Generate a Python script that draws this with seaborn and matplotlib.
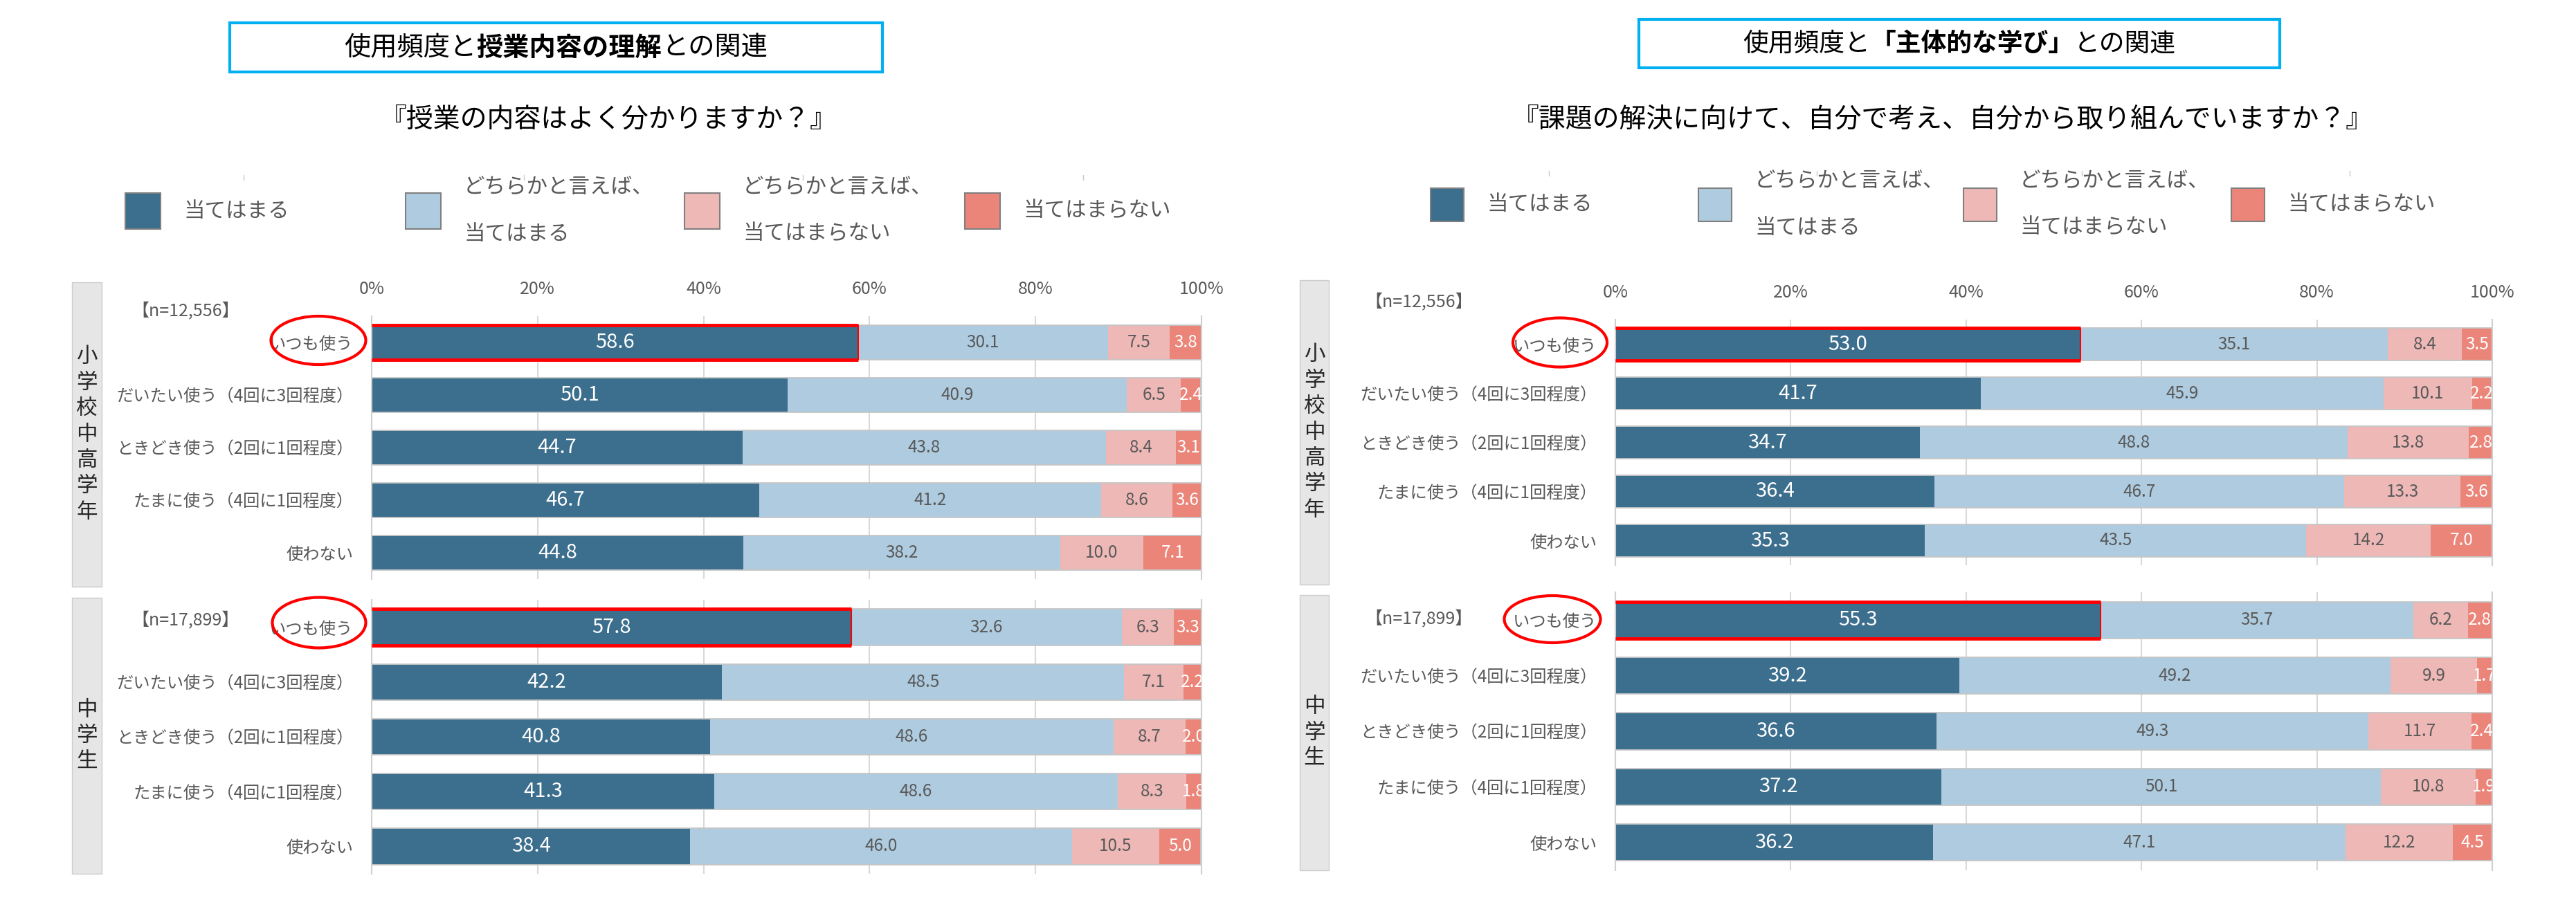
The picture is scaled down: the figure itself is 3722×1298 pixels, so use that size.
import numpy as np
import pandas as pd
import seaborn as sns
import matplotlib.pyplot as plt
from matplotlib.patches import Rectangle, Ellipse

# --- data ---
categories = ["いつも使う", "だいたい使う（4回に3回程度）", "ときどき使う（2回に1回程度）",
              "たまに使う（4回に1回程度）", "使わない"]
answer_labels = ["当てはまる", "どちらかと言えば、\n当てはまる", "どちらかと言えば、\n当てはまらない", "当てはまらない"]
answer_colors = ["#3C6E8E", "#AECBDF", "#EDB8B6", "#EB8579"]
label_colors = ["white", "#595959", "#595959", "white"]

# 授業内容の理解
understand_elem = [[58.6, 30.1, 7.5, 3.8], [50.1, 40.9, 6.5, 2.4], [44.7, 43.8, 8.4, 3.1],
                   [46.7, 41.2, 8.6, 3.6], [44.8, 38.2, 10.0, 7.1]]
understand_jhs = [[57.8, 32.6, 6.3, 3.3], [42.2, 48.5, 7.1, 2.2], [40.8, 48.6, 8.7, 2.0],
                  [41.3, 48.6, 8.3, 1.8], [38.4, 46.0, 10.5, 5.0]]
# 主体的な学び
active_elem = [[53.0, 35.1, 8.4, 3.5], [41.7, 45.9, 10.1, 2.2], [34.7, 48.8, 13.8, 2.8],
               [36.4, 46.7, 13.3, 3.6], [35.3, 43.5, 14.2, 7.0]]
active_jhs = [[55.3, 35.7, 6.2, 2.8], [39.2, 49.2, 9.9, 1.7], [36.6, 49.3, 11.7, 2.4],
              [37.2, 50.1, 10.8, 1.9], [36.2, 47.1, 12.2, 4.5]]

group_labels = ["小学校中高学年", "中学生"]
n_labels = ["【n=12,556】", "【n=17,899】"]
titles = [[("使用頻度と", "normal"), ("授業内容の理解", "bold"), ("との関連", "normal")],
          [("使用頻度と", "normal"), ("「主体的な学び」", "bold"), ("との関連", "normal")]]
questions = ["『授業の内容はよく分かりますか？』",
             "『課題の解決に向けて、自分で考え、自分から取り組んでいますか？』"]

W, H = 3723, 1298
GRAY = "#595959"

sns.set_theme(style="white")
plt.rcParams['font.family'] = ['Noto Sans CJK JP', 'DejaVu Sans']

fig = plt.figure(figsize=(W / 100, H / 100), dpi=100)


def fx(x):
    return x / W


def fy(y):
    return 1 - y / H


def axes_px(x0, x1, y0, y1):
    return fig.add_axes([fx(x0), fy(y1), fx(x1) - fx(x0), (y1 - y0) / H])


def stacked(ax, rows, show_ticks, bar_h=0.66):
    df = pd.DataFrame(rows, columns=answer_labels)
    df["cat"] = categories
    cum = df[answer_labels].cumsum(axis=1)
    # draw from the longest cumulative layer down
    for i in range(3, -1, -1):
        sns.barplot(x=cum[answer_labels[i]].values, y=df["cat"].values, orient="h",
                    color=answer_colors[i], saturation=1, width=bar_h, linewidth=0,
                    errorbar=None, ax=ax)
    sns.barplot(x=cum[answer_labels[3]].values, y=df["cat"].values, orient="h",
                color="#c6c6c6", fill=False, width=bar_h, linewidth=1.3,
                errorbar=None, ax=ax)
    # value labels
    for r in range(len(categories)):
        left = 0
        for i in range(4):
            v = rows[r][i]
            big = i == 0
            ax.text(left + v / 2, r, f"{v:.1f}", ha="center", va="center",
                    color=label_colors[i], fontsize=21 if big else 17.5, clip_on=True)
            left += v
    # highlight the first bar
    v0 = rows[0][0]
    ax.hlines([-bar_h / 2, bar_h / 2], 0, v0, colors="#FF0000", lw=3.5, zorder=5)
    ax.vlines(v0, -bar_h / 2, bar_h / 2, colors="#FF0000", lw=1.5, zorder=5)

    ax.set_xlim(0, 100)
    ax.set_ylim(len(categories) - 0.5, -0.5)
    ax.set_xticks(range(0, 101, 20))
    ax.set_xticklabels([f"{t}%" for t in range(0, 101, 20)])
    ax.xaxis.grid(True, color="#d9d9d9", lw=1.5)
    ax.set_axisbelow(True)
    for s in ["top", "bottom"]:
        ax.spines[s].set_visible(False)
    for s in ["left", "right"]:
        ax.spines[s].set_color("#d0d0d0")
        ax.spines[s].set_linewidth(1.5)
    ax.tick_params(axis="x", top=True, labeltop=show_ticks, bottom=False, labelbottom=False,
                   length=0, pad=19, labelsize=18, labelcolor=GRAY)
    ax.tick_params(axis="y", length=0, pad=19, labelsize=17.5, labelcolor=GRAY)
    ax.set_xlabel("")
    ax.set_ylabel("")


def mixed_title(cx, cy, parts, size):
    r = fig.canvas.get_renderer()
    texts = [fig.text(0, fy(cy), s, fontsize=size, fontweight=w, va="center", ha="left",
                      color="black") for s, w in parts]
    widths = [t.get_window_extent(r).width for t in texts]
    x = cx - sum(widths) / 2
    for t, w in zip(texts, widths):
        t.set_x(fx(x))
        x += w


def group_band(x0, x1, y0, y1, label):
    fig.patches.append(Rectangle((fx(x0), fy(y1)), fx(x1) - fx(x0), (y1 - y0) / H,
                                 transform=fig.transFigure, facecolor="#e6e6e6",
                                 edgecolor="#cccccc", lw=1))
    fig.text(fx((x0 + x1) / 2), fy((y0 + y1) / 2), "\n".join(label), ha="center", va="center",
             fontsize=22, linespacing=1.27, color="#262626")


def legend_row(xs, cy, size, marks_y):
    for x, lab, c in zip(xs, answer_labels, answer_colors):
        fig.patches.append(Rectangle((fx(x), fy(cy + size / 2)), size / W, size / H,
                                     transform=fig.transFigure, facecolor=c,
                                     edgecolor="#808080", lw=1.5))
        fig.text(fx(x + size + 33), fy(cy), lab, ha="left", va="center", fontsize=22,
                 color=GRAY, linespacing=2.5)
        # faint leftover marks above each legend entry
        mx = x + 171
        fig.add_artist(plt.Line2D([fx(mx), fx(mx)], [fy(marks_y), fy(marks_y + 7)],
                                  color="#c8c8c8", lw=1))


def ellipse(cx, cy, w, h):
    fig.patches.append(Ellipse((fx(cx), fy(cy)), w / W, h / H, transform=fig.transFigure,
                               fill=False, edgecolor="#FF0000", lw=3, zorder=10))


def title_box(x0, x1, y0, y1):
    fig.patches.append(Rectangle((fx(x0), fy(y1)), fx(x1) - fx(x0), (y1 - y0) / H,
                                 transform=fig.transFigure, facecolor="white",
                                 edgecolor="#00B0F0", lw=3))


# ---------------- left panel ----------------
title_box(332, 1275, 33, 104)
mixed_title(803, 69, titles[0], 27.5)
fig.text(fx(879), fy(173), questions[0], ha="center", va="center", fontsize=28, color="black")
legend_row([181, 586, 989, 1394], 305, 51, 253)

group_band(104, 147, 408, 848, group_labels[0])
group_band(104, 147, 864, 1263, group_labels[1])
ax1 = axes_px(537, 1736, 457, 837)
stacked(ax1, understand_elem, True)
ax2 = axes_px(537, 1736, 867, 1263)
stacked(ax2, understand_jhs, False)
fig.text(fx(268), fy(450), n_labels[0], ha="center", va="center", fontsize=18, color=GRAY)
fig.text(fx(268), fy(897), n_labels[1], ha="center", va="center", fontsize=18, color=GRAY)
ellipse(460, 492, 137, 70)
ellipse(461, 900, 135, 73)

# ---------------- right panel ----------------
title_box(2368, 3294, 28, 98)
mixed_title(2831, 63, titles[1], 26.5)
fig.text(fx(2807), fy(173), questions[1], ha="center", va="center", fontsize=28, color="black")
legend_row([2067, 2454, 2837, 3224], 296, 48, 247)

group_band(1878, 1920, 405, 845, group_labels[0])
group_band(1878, 1920, 860, 1258, group_labels[1])
ax3 = axes_px(2334, 3601, 462, 817)
stacked(ax3, active_elem, True)
ax4 = axes_px(2334, 3601, 856, 1258)
stacked(ax4, active_jhs, False)
fig.text(fx(2050), fy(437), n_labels[0], ha="center", va="center", fontsize=18, color=GRAY)
fig.text(fx(2050), fy(895), n_labels[1], ha="center", va="center", fontsize=18, color=GRAY)
ellipse(2254, 495, 136, 71)
ellipse(2243, 895, 139, 68)

fig.savefig("out.png", dpi=100, facecolor="white")
